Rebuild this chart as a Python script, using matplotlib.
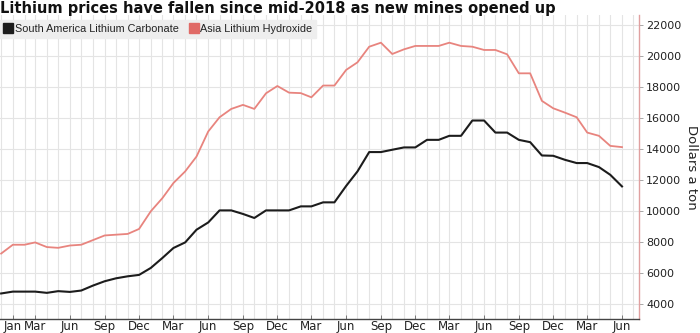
import matplotlib
matplotlib.use("Agg")
import matplotlib.pyplot as plt
import matplotlib.dates as mdates
import pandas as pd
from matplotlib.lines import Line2D

title = "Lithium prices have fallen since mid-2018 as new mines opened up"
series_names = ["South America Lithium Carbonate", "Asia Lithium Hydroxide"]
months = pd.date_range("2014-12-01", "2019-06-01", freq="MS")

carbonate = [4650, 4770, 4770, 4770, 4690, 4800, 4750, 4840, 5160, 5440, 5630, 5760, 5850,
             6300, 6950, 7590, 7950, 8770, 9240, 10020, 10020, 9790, 9530, 10020, 10020,
             10020, 10280, 10280, 10540, 10540, 11600, 12540, 13790, 13790, 13940, 14090, 14090,
             14580, 14580, 14840, 14840, 15830, 15830, 15050, 15050, 14580, 14430, 13570, 13550,
             13290, 13080, 13080, 12820, 12320, 11570]
hydroxide = [7230, 7800, 7800, 7950, 7650, 7600, 7750, 7800, 8100, 8400, 8450, 8500, 8820,
             9960, 10820, 11790, 12540, 13500, 15120, 16040, 16580, 16840, 16580, 17590, 18060,
             17630, 17600, 17330, 18090, 18090, 19100, 19590, 20600, 20860, 20130, 20430, 20650,
             20650, 20650, 20860, 20650, 20600, 20390, 20390, 20110, 18880, 18880, 17100, 16620,
             16340, 16040, 15050, 14840, 14190, 14110]

tick_dates = pd.to_datetime(["2015-01-01"] + [f"{y}-{m:02d}-01" for y in range(2015, 2020)
                                               for m in (3, 6, 9, 12)])
tick_dates = [d for d in tick_dates if d <= pd.Timestamp("2019-06-01")]
y_ticks = list(range(4000, 22001, 2000))

black = "#1c1c1c"
red = "#e8847e"
grid_c = "#e4e4e4"
spine_c = "#e0a0a0"

fig = plt.figure(figsize=(7.0, 3.33), dpi=100)
ax = fig.add_axes([0.0, 1 - 319 / 333, 639 / 700, (319 - 15) / 333])

ax.plot(months, carbonate, color=black, lw=1.5, zorder=3)
ax.plot(months, hydroxide, color=red, lw=1.3, zorder=3)

ax.set_xlim(pd.Timestamp("2014-11-28"), pd.Timestamp("2019-07-16"))
ax.set_ylim(3000, 22650)

ax.xaxis.set_minor_locator(mdates.MonthLocator())
ax.set_xticks(tick_dates)
ax.set_xticklabels([d.strftime("%b") for d in tick_dates])
ax.set_yticks(y_ticks)
ax.set_yticklabels([str(v) for v in y_ticks])
ax.yaxis.tick_right()
ax.yaxis.set_label_position("right")
ax.set_ylabel("Dollars a ton", rotation=270, labelpad=12, fontsize=9.5, color="#222222")

ax.grid(True, which="minor", axis="x", color=grid_c, lw=0.8)
ax.grid(True, which="major", axis="x", color=grid_c, lw=0.8)
ax.grid(True, which="major", axis="y", color=grid_c, lw=0.8)
ax.set_axisbelow(True)

for s in ("top", "left"):
    ax.spines[s].set_visible(False)
ax.spines["right"].set_color(spine_c)
ax.spines["right"].set_linewidth(1.0)
ax.spines["bottom"].set_color("#444444")
ax.spines["bottom"].set_linewidth(1.0)

ax.tick_params(axis="x", which="major", length=3, width=0.6, color="#666666",
               labelsize=8.5, labelcolor="#222222", pad=1, direction="in")
ax.tick_params(axis="x", which="minor", length=0)
ax.tick_params(axis="y", which="major", length=3, width=0.6, color="#999999",
               labelsize=8, labelcolor="#222222", pad=2)

fig.text(0.0, 1 - 1 / 333, title, ha="left", va="top", fontsize=10.5,
         fontweight="bold", color="#111111")

handles = [Line2D([], [], ls="", marker="s", markersize=6.5, color=black),
           Line2D([], [], ls="", marker="s", markersize=6.5, color="#e06a66")]
leg = fig.legend(handles, series_names, loc="upper left", bbox_to_anchor=(0.0, 1 - 20 / 333),
                 ncol=2, frameon=True, fancybox=False, facecolor="#eeeeee", edgecolor="#eeeeee",
                 prop={"family": "Liberation Sans", "size": 7.8},
                 handlelength=0.8, handletextpad=0.2, columnspacing=1.0,
                 borderpad=0.35, borderaxespad=0.0)
leg.get_frame().set_alpha(1.0)
for t in leg.get_texts():
    t.set_color("#222222")

fig.savefig("out.png", dpi=100)
